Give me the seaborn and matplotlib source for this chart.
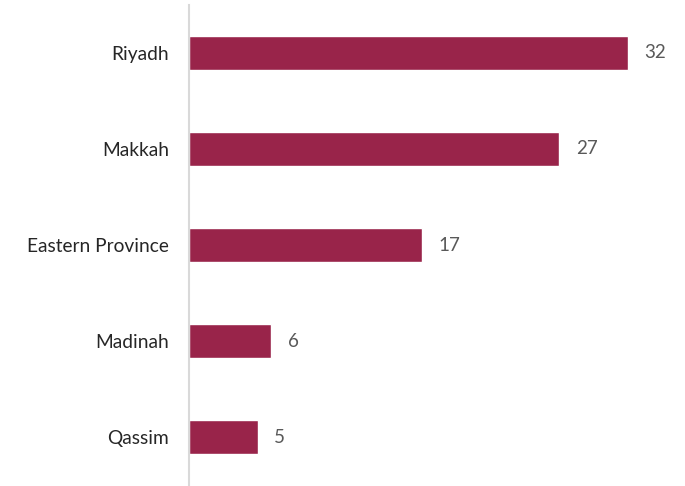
import matplotlib
matplotlib.use("Agg")
import matplotlib.pyplot as plt
import seaborn as sns
import pandas as pd

regions = ["Riyadh", "Makkah", "Eastern Province", "Madinah", "Qassim"]
counts = [32, 27, 17, 6, 5]

BAR_COLOR = "#99244A"

sns.set_theme(style="white")
plt.rcParams['font.family'] = ['Lato', 'DejaVu Sans']

df = pd.DataFrame({"region": regions, "count": counts})

fig = plt.figure(figsize=(6.85, 4.86), dpi=100)
ax = fig.add_axes([189 / 685, 1 / 486, (680 - 189) / 685, 480 / 486])

sns.barplot(data=df, x="count", y="region", color=BAR_COLOR, width=0.36,
            saturation=1, ax=ax, orient="h")

# value labels to the right of each bar
for i, v in enumerate(counts):
    ax.text(v + 1.2, i, str(v), va="center", ha="left", fontsize=13.5, color="#595959")

ax.set_xlim(0, 35.8)
ax.set_ylim(4.5, -0.5)
ax.set_xlabel("")
ax.set_ylabel("")
ax.set_xticks([])
ax.tick_params(axis="y", length=0, pad=14.4, labelsize=13.8, labelcolor="#262626")

for s in ["top", "right", "bottom"]:
    ax.spines[s].set_visible(False)
ax.spines["left"].set_color("#D9D9D9")
ax.spines["left"].set_linewidth(1.5)

fig.savefig("out.png", dpi=100)
